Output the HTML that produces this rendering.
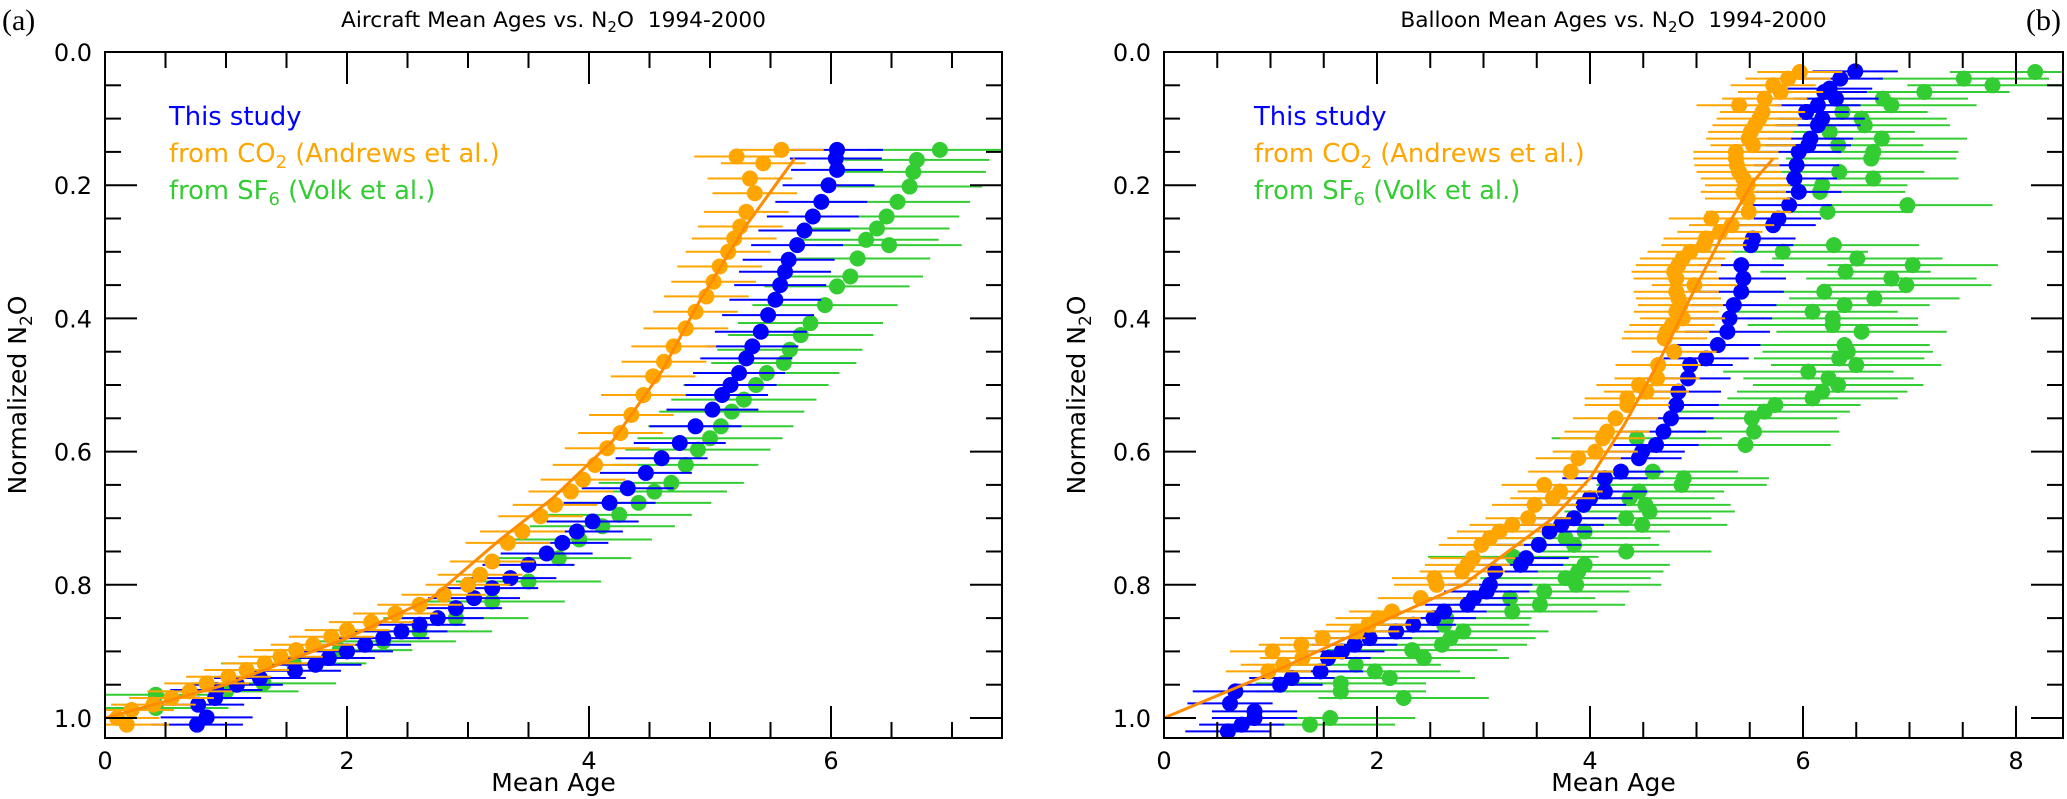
<!DOCTYPE html>
<html><head><meta charset="utf-8"><style>
body{margin:0;background:#fff}
svg{display:block;font-family:"DejaVu Sans","Liberation Sans",sans-serif}
</style></head><body>
<svg id="c" width="2067" height="799" xmlns="http://www.w3.org/2000/svg"></svg>
<script>
// Panel (a) aircraft
const aBlueAge=[0.76,0.84,0.77,0.91,0.92,1.09,1.28,1.57,1.74,1.85,2.0,2.15,2.3,2.45,2.6,2.75,2.9,3.05,3.2,3.35,3.5,3.65,3.78,3.9,4.03,4.17,4.32,4.47,4.6,4.75,4.88,5.02,5.1,5.17,5.24,5.3,5.35,5.42,5.48,5.54,5.58,5.62,5.65,5.72,5.78,5.85,5.92,5.98,6.05,6.04,6.05];
const aBlueN2O=[1.01,0.999,0.98,0.97,0.958,0.95,0.94,0.929,0.92,0.91,0.90,0.89,0.88,0.87,0.86,0.85,0.835,0.82,0.805,0.79,0.77,0.753,0.737,0.72,0.705,0.677,0.655,0.632,0.61,0.587,0.562,0.537,0.515,0.50,0.482,0.46,0.442,0.42,0.395,0.372,0.35,0.33,0.312,0.29,0.268,0.247,0.225,0.20,0.177,0.16,0.147];
const aOrgAge=[0.18,0.10,0.22,0.40,0.55,0.70,0.84,1.02,1.17,1.32,1.45,1.58,1.72,1.87,2.0,2.2,2.4,2.6,2.8,3.0,3.1,3.2,3.33,3.45,3.6,3.72,3.85,3.95,4.05,4.15,4.26,4.35,4.45,4.53,4.62,4.7,4.8,4.88,4.97,5.03,5.08,5.15,5.2,5.25,5.3,5.37,5.33,5.44,5.22,5.59];
const aOrgN2O=[1.01,1.0,0.988,0.98,0.97,0.96,0.948,0.938,0.928,0.918,0.908,0.898,0.89,0.878,0.868,0.856,0.843,0.83,0.815,0.80,0.785,0.765,0.737,0.72,0.697,0.68,0.66,0.642,0.62,0.595,0.572,0.545,0.515,0.487,0.465,0.442,0.415,0.39,0.367,0.345,0.322,0.30,0.28,0.262,0.24,0.212,0.19,0.167,0.157,0.147];
const aFitAge=[0,1,2,2.7,3.26,3.7,4.2,4.6,4.92,5.3,5.70];
const aFitN2O=[1.0,0.95,0.88,0.82,0.733,0.67,0.583,0.48,0.372,0.26,0.16];
const aGrnAge=[0.42,0.42,1.0,1.31,1.56,1.94,2.3,2.6,2.9,3.2,3.5,3.75,3.92,4.11,4.25,4.41,4.54,4.68,4.8,4.9,5.0,5.09,5.18,5.28,5.38,5.47,5.61,5.66,5.75,5.83,5.95,6.05,6.16,6.22,6.29,6.48,6.38,6.46,6.55,6.65,6.68,6.71,6.9];
const aGrnN2O=[0.965,0.985,0.96,0.948,0.918,0.898,0.885,0.87,0.85,0.825,0.795,0.76,0.732,0.712,0.695,0.677,0.66,0.647,0.62,0.597,0.58,0.562,0.54,0.522,0.50,0.482,0.467,0.447,0.425,0.407,0.38,0.352,0.337,0.31,0.282,0.29,0.265,0.247,0.225,0.202,0.18,0.162,0.147];
// Panel (b) balloon
const bBlueAge=[0.60,0.73,0.85,0.85,0.62,0.67,1.09,1.20,1.47,1.54,1.67,1.79,1.93,2.18,2.34,2.53,2.63,2.85,2.91,3.03,3.06,3.11,3.35,3.40,3.52,3.62,3.73,3.85,3.94,4.00,4.14,4.14,4.29,4.46,4.49,4.62,4.69,4.76,4.81,4.83,4.92,4.94,5.09,5.20,5.29,5.31,5.35,5.42,5.44,5.42,5.51,5.53,5.72,5.77,5.87,5.96,5.92,5.94,5.96,6.05,6.07,6.14,6.18,6.03,6.14,6.31,6.20,6.25,6.35,6.49];
const bBlueN2O=[1.02,1.01,1.0,0.99,0.978,0.96,0.95,0.94,0.93,0.91,0.90,0.89,0.88,0.87,0.86,0.85,0.84,0.83,0.82,0.81,0.80,0.78,0.77,0.76,0.74,0.72,0.71,0.70,0.68,0.67,0.66,0.64,0.63,0.61,0.60,0.59,0.57,0.55,0.53,0.51,0.49,0.47,0.46,0.44,0.42,0.40,0.38,0.36,0.34,0.32,0.29,0.28,0.26,0.25,0.23,0.21,0.19,0.17,0.15,0.14,0.13,0.11,0.10,0.09,0.08,0.07,0.06,0.055,0.04,0.029];
const bOrgAge=[1.02,0.98,1.12,1.30,1.29,1.49,1.81,1.92,2.01,2.14,2.41,2.56,2.54,2.80,2.85,2.90,2.98,3.06,3.15,3.27,3.42,3.48,3.57,3.65,3.72,3.82,3.89,4.05,4.12,
 4.16,4.24,4.35,4.35,4.53,4.46,4.63,4.64,4.79,4.70,4.72,4.77,4.87,4.81,4.85,4.83,4.81,4.98,4.81,4.79,4.83,4.87,4.94,5.07,5.09,5.22,5.33,5.14,5.49,5.48,5.44,5.48,5.44,5.40,5.38,5.37,5.37,5.53,5.49,5.51,5.55,5.59,5.62,5.40,5.64,5.79,5.72,5.86,5.97];
const bOrgN2O=[0.90,0.93,0.92,0.91,0.89,0.88,0.87,0.86,0.85,0.84,0.82,0.80,0.79,0.78,0.77,0.76,0.74,0.73,0.72,0.71,0.70,0.68,0.65,0.67,0.66,0.63,0.61,0.60,0.58,
 0.57,0.55,0.53,0.52,0.51,0.50,0.49,0.47,0.45,0.43,0.42,0.41,0.40,0.39,0.38,0.37,0.36,0.35,0.34,0.33,0.32,0.31,0.30,0.29,0.28,0.27,0.26,0.25,0.24,0.22,0.21,0.20,0.19,0.18,0.17,0.16,0.15,0.14,0.13,0.12,0.11,0.10,0.09,0.08,0.07,0.06,0.05,0.04,0.03];
const bFitAge=[0,1.0,1.98,2.81,3.65,4.0,4.32,4.64,4.98,5.27,5.53,5.72];
const bFitN2O=[1.0,0.933,0.86,0.80,0.70,0.64,0.56,0.467,0.357,0.267,0.195,0.16];
const bGrnAge=[1.37,1.56,1.66,1.66,1.80,1.98,2.12,2.25,2.33,2.44,2.61,2.69,2.81,2.63,2.65,3.27,3.25,3.53,3.57,3.77,3.87,3.89,3.95,3.28,3.85,3.77,3.95,4.34,4.34,4.49,4.56,4.52,4.37,4.46,4.59,4.86,4.88,4.44,
 5.46,5.54,5.52,5.64,5.74,6.09,6.18,6.33,6.24,6.05,6.50,6.34,6.42,6.39,6.55,6.28,6.28,6.09,6.39,6.67,6.20,6.97,6.83,6.40,7.03,6.51,5.81,6.29,6.23,6.98,6.16,6.18,6.66,6.34,6.64,6.66,6.33,6.74,6.25,6.58,6.55,6.37,6.83,6.75,7.14,7.78,7.51,8.18];
const bGrnN2O=[1.01,1.0,0.948,0.96,0.92,0.93,0.94,0.97,0.898,0.91,0.89,0.88,0.87,0.86,0.85,0.84,0.82,0.83,0.81,0.79,0.80,0.78,0.77,0.758,0.74,0.73,0.72,0.75,0.70,0.71,0.69,0.68,0.67,0.66,0.63,0.65,0.64,0.58,
 0.59,0.57,0.55,0.54,0.53,0.52,0.51,0.50,0.49,0.48,0.47,0.46,0.45,0.44,0.42,0.41,0.40,0.39,0.38,0.37,0.36,0.35,0.34,0.33,0.32,0.31,0.30,0.29,0.24,0.23,0.21,0.20,0.19,0.18,0.16,0.15,0.14,0.13,0.12,0.11,0.10,0.09,0.08,0.07,0.06,0.05,0.04,0.03];
const xTicksA=[0,2,4,6], xTicksB=[0,2,4,6,8], yTicks=[0.0,0.2,0.4,0.6,0.8,1.0];
const errA={blue:0.38,org:0.35,grn:0.6}, errB={blue:0.4,org:0.4,grn:0.8};

const NS="http://www.w3.org/2000/svg", svg=document.getElementById('c');
function mk(t,a,p){const e=document.createElementNS(NS,t);for(const k in a)e.setAttribute(k,a[k]);(p||svg).appendChild(e);return e;}
const BLUE="#0000ff",ORG="#ffa500",GRN="#33cc33";

function panel(id,L,R,T,B,xmax,xTicks,title,tag,tagX,legX,series,fit){
  const g=mk('g',{});
  
  
  const X=v=>L+(v/xmax)*(R-L), Y=v=>T+v*666;
  const clip=mk('clipPath',{id:'cp'+id},g);mk('rect',{x:L,y:T,width:R-L,height:B-T},clip);
  const data=mk('g',{'clip-path':'url(#cp'+id+')'},g);
  series.forEach(s=>{
    const sg=mk('g',{},data);
    
    
    s.age.forEach((a,i)=>{const y=Y(s.n2o[i]);
      const eb=mk('line',{x1:X(a-s.err),x2:X(a+s.err),y1:y,y2:y,stroke:s.col,'stroke-width':2},sg);
      });
    s.age.forEach((a,i)=>{const c=mk('circle',{cx:X(a),cy:Y(s.n2o[i]),r:8,fill:s.col},sg);
      });
    if(s.name==='co2'){const pl=mk('polyline',{points:fit.age.map((a,i)=>X(a)+','+Y(fit.n2o[i])).join(' '),fill:'none',stroke:'#ff8c00','stroke-width':3},sg);
      }
  });
  const fr=mk('rect',{x:L,y:T,width:R-L,height:B-T,fill:'none',stroke:'#000','stroke-width':2},g);
  
  for(let v=0;v<=xmax+1e-9;v+=0.5){const x=X(v),maj=Math.abs(v-Math.round(v/2)*2)<1e-9,l=maj?32:16;
    mk('line',{x1:x,x2:x,y1:B,y2:B-l,stroke:'#000','stroke-width':2},g);mk('line',{x1:x,x2:x,y1:T,y2:T+l,stroke:'#000','stroke-width':2},g);}
  xTicks.forEach(v=>{const t=mk('text',{x:X(v),y:B+31,'text-anchor':'middle','font-size':24},g);t.textContent=v;
    });
  for(let k=0;k<=20;k++){const v=k*0.05,y=Y(v),maj=k%4===0,l=maj?32:16;
    mk('line',{x1:L,x2:L+l,y1:y,y2:y,stroke:'#000','stroke-width':2},g);mk('line',{x1:R,x2:R-l,y1:y,y2:y,stroke:'#000','stroke-width':2},g);}
  yTicks.forEach(v=>{const t=mk('text',{x:L-13,y:Y(v)+9,'text-anchor':'end','font-size':24},g);t.textContent=v.toFixed(1);
    });
  const xt=mk('text',{x:(L+R)/2,y:791,'text-anchor':'middle','font-size':25},g);xt.textContent='Mean Age';
  
  const yt=mk('text',{x:0,y:0,'text-anchor':'middle','font-size':25,transform:`translate(${L-79},${(T+B)/2}) rotate(-90)`},g);
  yt.innerHTML='Normalized N<tspan font-size="17" dy="6">2</tspan><tspan dy="-6">O</tspan>';
  
  const tt=mk('text',{x:(L+R)/2,y:27,'text-anchor':'middle','font-size':21.7,style:'white-space:pre'},g);
  tt.innerHTML=title+' vs. N<tspan font-size="15" dy="5">2</tspan><tspan dy="-5">O  1994-2000</tspan>';
  
  const tg=mk('text',{x:tagX,y:30,'font-size':30,'font-family':'"Liberation Serif",serif'},g);tg.textContent=tag;
  
  const lg=mk('g',{'font-size':25.8},g);
  
  const l1=mk('text',{x:legX,y:125,fill:BLUE},lg);l1.textContent='This study';
  
  const l2=mk('text',{x:legX,y:162,fill:ORG},lg);l2.innerHTML='from CO<tspan font-size="18" dy="6">2</tspan><tspan dy="-6"> (Andrews et al.)</tspan>';
  
  const l3=mk('text',{x:legX,y:199,fill:GRN},lg);l3.innerHTML='from SF<tspan font-size="18" dy="6">6</tspan><tspan dy="-6"> (Volk et al.)</tspan>';
  
}
panel('a',105,1002,52,738,(1002-105)/121,xTicksA,'Aircraft Mean Ages','(a)',2,169,
 [{name:'sf6',age:aGrnAge,n2o:aGrnN2O,col:GRN,err:errA.grn},{name:'this-study',age:aBlueAge,n2o:aBlueN2O,col:BLUE,err:errA.blue},{name:'co2',age:aOrgAge,n2o:aOrgN2O,col:ORG,err:errA.org}],
 {age:aFitAge,n2o:aFitN2O});
panel('b',1164,2063,52,738,(2063-1164)/106.5,xTicksB,'Balloon Mean Ages','(b)',2026,1254,
 [{name:'sf6',age:bGrnAge,n2o:bGrnN2O,col:GRN,err:errB.grn},{name:'this-study',age:bBlueAge,n2o:bBlueN2O,col:BLUE,err:errB.blue},{name:'co2',age:bOrgAge,n2o:bOrgN2O,col:ORG,err:errB.org}],
 {age:bFitAge,n2o:bFitN2O});
</script>
</body></html>
